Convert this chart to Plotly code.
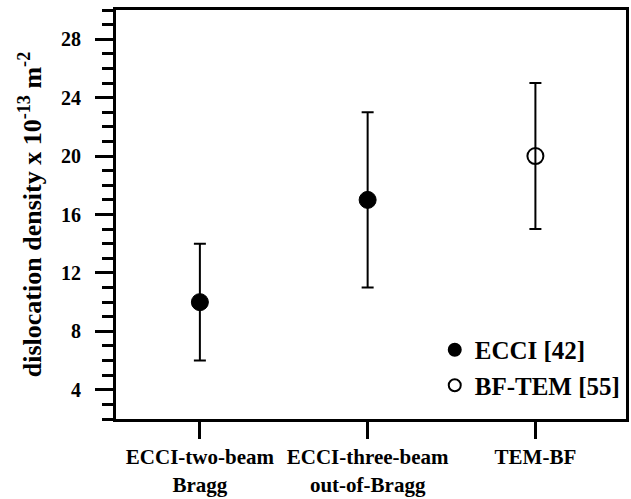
import plotly.graph_objects as go

categories = ["ECCI-two-beam<br>Bragg", "ECCI-three-beam<br>out-of-Bragg", "TEM-BF"]

ecci_cats = categories[:2]
ecci_values = [10, 17]
ecci_errors = [4, 6]

bftem_cats = categories[2:]
bftem_values = [20]
bftem_errors = [5]

y_tickvals = [4, 8, 12, 16, 20, 24, 28]

FONT = "Liberation Serif"

fig = go.Figure()
fig.add_trace(go.Scatter(
    x=ecci_cats, y=ecci_values, mode="markers", name="ECCI [42]",
    marker=dict(symbol="circle", size=17, color="black", line=dict(color="black", width=1)),
    error_y=dict(type="data", array=ecci_errors, visible=True, color="black", thickness=2, width=6),
))
fig.add_trace(go.Scatter(
    x=bftem_cats, y=bftem_values, mode="markers", name="BF-TEM [55]",
    marker=dict(symbol="circle-open", size=16, color="black", line=dict(color="black", width=2)),
    error_y=dict(type="data", array=bftem_errors, visible=True, color="black", thickness=2, width=6),
))

fig.update_layout(
    width=631, height=499,
    margin=dict(l=116, r=2, t=10, b=79),
    paper_bgcolor="white", plot_bgcolor="white",
    font=dict(family=FONT, color="black", weight="bold"),
    showlegend=True,
    legend=dict(x=0.625, y=0.225, xanchor="left", yanchor="top",
                bgcolor="rgba(0,0,0,0)", borderwidth=0,
                font=dict(family=FONT, size=25, color="black", weight="bold"),
                itemwidth=30, itemsizing="constant", tracegroupgap=0),
)
fig.update_xaxes(
    type="category", categoryorder="array", categoryarray=categories,
    range=[-0.5, 2.54],
    showline=True, linecolor="black", linewidth=3, mirror=True,
    showgrid=False, zeroline=False,
    ticks="outside", ticklen=17, tickwidth=3, tickcolor="black",
    tickfont=dict(family=FONT, size=21, color="black", weight="bold"),
)
fig.update_yaxes(
    range=[2, 30],
    tickmode="array", tickvals=y_tickvals,
    showline=True, linecolor="black", linewidth=3, mirror=True,
    showgrid=False, zeroline=False,
    ticks="outside", ticklen=18, tickwidth=3, tickcolor="black",
    ticklabelstandoff=10,
    tickfont=dict(family=FONT, size=20, color="black", weight="bold"),
    minor=dict(dtick=1, tick0=0, ticks="outside", ticklen=11, tickwidth=2.5, tickcolor="black", showgrid=False),
    title=dict(text="dislocation density x 10<sup>-13</sup> m<sup>-2</sup>",
               font=dict(family=FONT, size=26, color="black", weight="bold"), standoff=12),
)

fig.write_html("out.html", config={"displayModeBar": False},
               post_script="document.body.style.margin='0';")
